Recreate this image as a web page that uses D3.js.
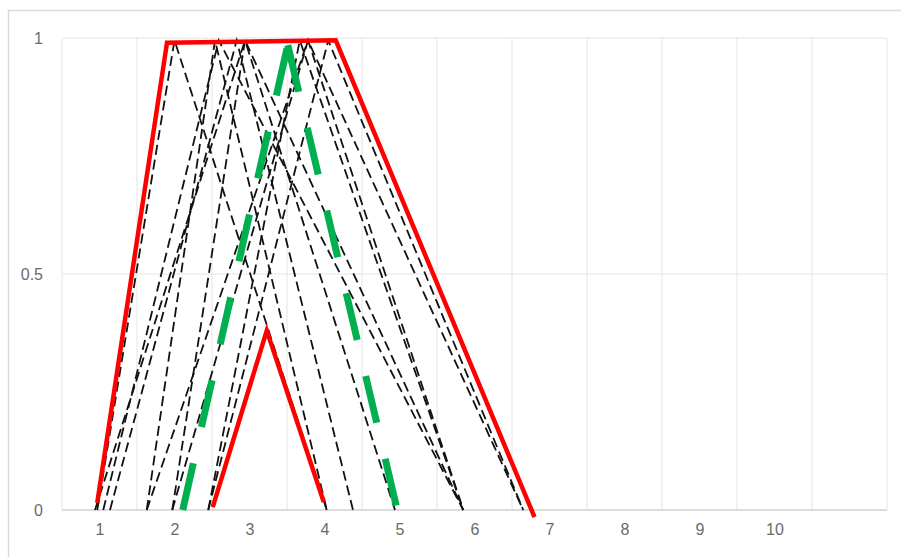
<!DOCTYPE html>
<html>
<head>
<meta charset="utf-8">
<script src="https://cdn.jsdelivr.net/npm/d3@7"></script>
<style>
  html, body { margin: 0; padding: 0; background: #fff; }
  svg { display: block; }
  .tick text { font-family: "Liberation Sans", Arial, sans-serif; font-size: 16px; fill: #6b6b6b; }
</style>
</head>
<body>
<svg id="chart" width="901" height="557"></svg>
<script>
// ---- data ----
const xTickLabels = [1, 2, 3, 4, 5, 6, 7, 8, 9, 10];
const yTickLabels = [0, 0.5, 1];
const xGrid = [0.5, 1.5, 2.5, 3.5, 4.5, 5.5, 6.5, 7.5, 8.5, 9.5, 10.5, 11.5];

// red envelope (outer trapezoid) and inner red triangle
const redOuterX = [0.97, 1.9, 4.15, 6.8];
const redOuterY = [0.015, 0.99, 0.995, -0.015];
const redInnerX = [2.51, 3.23, 3.99];
const redInnerY = [0.006, 0.38, 0.017];

// green thick dashed triangle
const greenX = [2.11, 3.51, 4.97];
const greenY = [0, 0.985, 0];

// black dashed triangles: [left, peak, right]
const blackLeft  = [0.97, 1.05, 1.14, 1.63, 1.97, 1.63, 1.97, 2.45, 0.94, 2.45];
const blackPeak  = [2.00, 2.59, 2.83, 2.54, 2.94, 3.78, 3.78, 4.05, 2.94, 3.67];
const blackRight = [4.03, 5.85, 4.38, 4.03, 4.94, 5.85, 6.65, 6.65, 5.85, 5.85];

// ---- layout ----
const svg = d3.select("#chart");
const x = d3.scaleLinear().domain([0.5, 11.5]).range([62, 887]);
const y = d3.scaleLinear().domain([0, 1]).range([510, 38]);

// outer chart border (only top & left visible)
svg.append("rect").attr("x", 8.5).attr("y", 10.5).attr("width", 1000).attr("height", 1000)
  .attr("fill", "#fff").attr("stroke", "#d9d9d9").attr("stroke-width", 1.5);

// gridlines
svg.append("g").selectAll("line").data(xGrid).join("line")
  .attr("x1", d => x(d)).attr("x2", d => x(d))
  .attr("y1", y(1)).attr("y2", y(0))
  .attr("stroke", "#e4e4e4").attr("stroke-width", 1);
svg.append("g").selectAll("line").data(yTickLabels.filter(d => d > 0)).join("line")
  .attr("x1", x(0.5)).attr("x2", x(11.5))
  .attr("y1", d => y(d)).attr("y2", d => y(d))
  .attr("stroke", "#e4e4e4").attr("stroke-width", 1);
svg.append("line")
  .attr("x1", x(0.5)).attr("x2", x(11.5)).attr("y1", y(0)).attr("y2", y(0))
  .attr("stroke", "#d0d0d0").attr("stroke-width", 1.5);

// axes (labels only)
const xAxis = svg.append("g").attr("transform", `translate(0,${y(0) + 11})`)
  .call(d3.axisBottom(x).tickValues(xTickLabels).tickSize(0).tickFormat(d3.format("d")));
xAxis.select(".domain").remove();

const yAxis = svg.append("g").attr("transform", `translate(${x(0.5) - 16},0)`)
  .call(d3.axisLeft(y).tickValues(yTickLabels).tickSize(0).tickFormat(d => d === 0.5 ? "0.5" : d3.format("d")(d)));
yAxis.select(".domain").remove();

const line = d3.line().x(d => x(d[0])).y(d => y(d[1]));

// black dashed triangles
const blackData = blackLeft.map((a, i) => [[a, 0], [blackPeak[i], 0.995], [blackRight[i], 0]]);
svg.append("g").selectAll("path").data(blackData).join("path")
  .attr("d", line)
  .attr("fill", "none").attr("stroke", "#111").attr("stroke-width", 1.8)
  .attr("stroke-dasharray", "10,5");

// green (dash pattern restarts on each segment, as in the original)
const greenPts = greenX.map((v, i) => [v, greenY[i]]);
const greenSegs = d3.pairs(greenPts);
svg.append("g").selectAll("path").data(greenSegs).join("path")
  .attr("d", line).attr("fill", "none").attr("stroke", "#00b050")
  .attr("stroke-width", 7).attr("stroke-dasharray", "48,37");

// red
svg.append("path").datum(redOuterX.map((v, i) => [v, redOuterY[i]]))
  .attr("d", line).attr("fill", "none").attr("stroke", "#ff0000")
  .attr("stroke-width", 4.5).attr("stroke-linejoin", "miter");
svg.append("path").datum(redInnerX.map((v, i) => [v, redInnerY[i]]))
  .attr("d", line).attr("fill", "none").attr("stroke", "#ff0000")
  .attr("stroke-width", 4.5);
</script>
</body>
</html>
